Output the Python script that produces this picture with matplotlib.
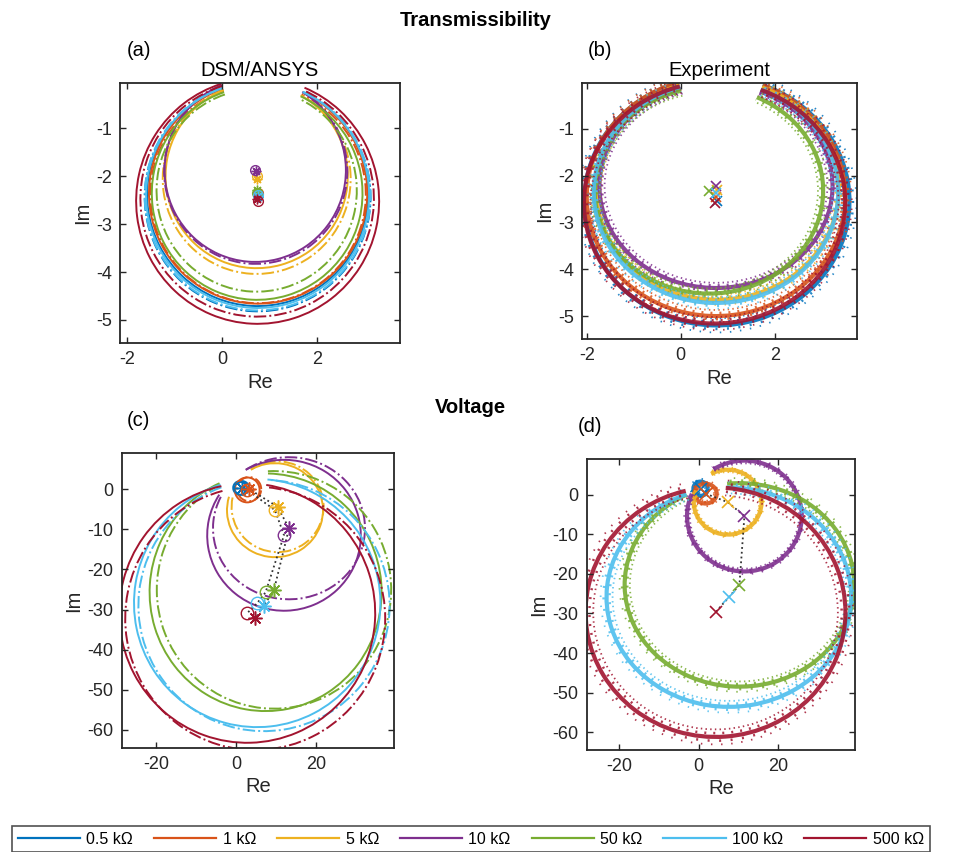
import numpy as np
import matplotlib
matplotlib.use('Agg')
import matplotlib.pyplot as plt
from matplotlib.patches import Arc
from matplotlib.lines import Line2D

plt.rcParams['font.family'] = ['Liberation Sans', 'DejaVu Sans']
plt.rcParams['axes.unicode_minus'] = False

labels = ['0.5 k\u03a9', '1 k\u03a9', '5 k\u03a9', '10 k\u03a9', '50 k\u03a9', '100 k\u03a9', '500 k\u03a9']
colors = ['#0072BD', '#D95319', '#EDB120', '#7E2F8E', '#77AC30', '#4DBEEE', '#A2142F']

# (a) transmissibility, DSM (solid) / ANSYS (dash-dot): circle centre + radius
a_dsm_re = [0.75, 0.76, 0.73, 0.70, 0.74, 0.75, 0.75]
a_dsm_im = [-2.38, -2.36, -2.00, -1.88, -2.36, -2.40, -2.52]
a_dsm_r = [2.33, 2.30, 1.92, 1.91, 2.22, 2.35, 2.56]
a_ans_re = [0.75, 0.76, 0.73, 0.71, 0.73, 0.75, 0.74]
a_ans_im = [-2.44, -2.38, -2.06, -1.90, -2.30, -2.42, -2.47]
a_ans_r = [2.38, 2.27, 1.98, 1.93, 2.11, 2.38, 2.46]
a_start = (0.0, -0.12)
a_end = (1.72, -0.20)

# (b) transmissibility, experiment: ellipse centre, half axes, scatter width
b_re = [0.77, 0.75, 0.78, 0.75, 0.60, 0.75, 0.72]
b_im = [-2.55, -2.45, -2.30, -2.22, -2.32, -2.36, -2.58]
b_rx = [2.82, 2.75, 2.58, 2.48, 2.43, 2.60, 2.78]
b_ry = [2.65, 2.55, 2.35, 2.18, 2.20, 2.36, 2.58]
b_spread = [0.15, 0.13, 0.11, 0.11, 0.11, 0.12, 0.14]
b_start = (-0.04, -0.02)
b_end = (1.70, -0.17)

# (c) voltage, DSM (solid, 'o') / ANSYS (dash-dot, '*')
c_dsm_re = [1.0, 2.8, 9.75, 12.0, 7.4, 5.3, 2.8]
c_dsm_im = [0.3, -0.2, -5.25, -11.5, -25.7, -28.4, -30.9]
c_dsm_rx = [1.7, 3.1, 12.0, 19.2, 29.0, 30.8, 32.0]
c_dsm_ry = [1.7, 3.1, 11.7, 18.8, 29.6, 30.9, 32.3]
c_ans_re = [1.5, 3.3, 10.4, 13.25, 9.5, 7.0, 4.8]
c_ans_im = [0.2, 0.0, -4.4, -9.75, -25.1, -29.0, -32.2]
c_ans_rx = [1.8, 3.0, 11.5, 19.0, 29.3, 31.4, 32.5]
c_ans_ry = [1.8, 3.0, 11.3, 17.7, 29.6, 31.3, 32.8]
# gap ends of each loop (nan = closed loop)
c_start_re = [np.nan, np.nan, -1.75, -2.0, -3.5, -3.5, -3.5]
c_start_im = [np.nan, np.nan, -1.9, -2.75, 0.0, 0.0, 0.0]
c_end_re = [np.nan, np.nan, 3.25, 2.0, 8.0, 8.0, 8.0]
c_end_im = [np.nan, np.nan, 5.6, 5.5, 4.0, 4.0, 4.0]

# (d) voltage, experiment
d_re = [0.5, 1.75, 7.3, 11.5, 10.25, 7.6, 4.25]
d_im = [1.5, 0.25, -1.9, -5.4, -22.8, -25.9, -29.7]
d_rx = [1.8, 2.8, 8.5, 14.4, 28.8, 30.7, 32.6]
d_ry = [1.8, 2.5, 8.2, 14.0, 25.7, 27.7, 31.5]
d_spread = [0.7, 0.7, 0.6, 0.7, 1.3, 1.5, 1.9]
d_start_re = [np.nan, np.nan, -0.5, 0.0, -3.0, -3.0, -3.0]
d_start_im = [np.nan, np.nan, 1.0, -0.5, 0.0, 0.0, 0.0]
d_end_re = [np.nan, np.nan, 3.0, 4.0, 7.0, 7.0, 7.0]
d_end_im = [np.nan, np.nan, 5.5, 6.0, 4.0, 4.0, 4.0]

asterisk = (8, 2, 0)


def arc(ax, cx, cy, rx, ry, p0, p1, **kw):
    if p0 is None or np.isnan(p0[0]):
        t1, t2 = 0.0, 360.0
    else:
        t1 = np.degrees(np.arctan2(p0[1] - cy, p0[0] - cx))
        t2 = np.degrees(np.arctan2(p1[1] - cy, p1[0] - cx))
        if t2 <= t1:
            t2 += 360
    ax.add_patch(Arc((cx, cy), 2 * rx, 2 * ry, theta1=t1, theta2=t2, **kw))


def ring(ax, cx, cy, rx, ry, s, p0, p1, color):
    # measured scatter band: dense core plus sparse dotted fringes
    arc(ax, cx, cy, rx, ry, p0, p1, color=color, lw=3.0, alpha=0.9)
    for k, d in enumerate([-s, -0.5 * s, 0.5 * s, s]):
        arc(ax, cx, cy, rx + d, ry + d, p0, p1, color=color,
            lw=1.8 if abs(d) < s else 1.3,
            ls=(k * 1.3, (0.8, 1.8 + k)), alpha=0.85)


def style(ax, xlim, ylim, xticks, yticks):
    ax.set_xlim(xlim)
    ax.set_ylim(ylim)
    ax.set_xticks(xticks)
    ax.set_yticks(yticks)
    ax.tick_params(direction='in', top=True, right=True, length=4, width=1,
                   labelsize=13, colors='#262626', pad=6)
    for s in ax.spines.values():
        s.set_linewidth(1.3)
        s.set_color('#262626')
    ax.set_xlabel('Re', fontsize=14.5, color='#262626', labelpad=3)
    ax.set_ylabel('Im', fontsize=14.5, color='#262626', labelpad=3)


W, H = 961, 852
fig = plt.figure(figsize=(W / 100, H / 100), dpi=100)


def box(l, t, r, b):
    return [l / W, 1 - b / H, (r - l) / W, (b - t) / H]


ax_a = fig.add_axes(box(120, 83, 400, 343))
ax_b = fig.add_axes(box(582, 83, 857, 339))
ax_c = fig.add_axes(box(122, 453, 394, 748))
ax_d = fig.add_axes(box(587, 459, 855, 750))

# (a)
for i in range(7):
    arc(ax_a, a_dsm_re[i], a_dsm_im[i], a_dsm_r[i], a_dsm_r[i], a_start, a_end,
        color=colors[i], lw=1.4)
    arc(ax_a, a_ans_re[i], a_ans_im[i], a_ans_r[i], a_ans_r[i], a_start, a_end,
        color=colors[i], lw=1.4, ls='-.')
for i in range(7):
    ax_a.plot(a_dsm_re[i], a_dsm_im[i], 'o', mfc='none', mec=colors[i], ms=7, mew=1)
    ax_a.plot(a_ans_re[i], a_ans_im[i], marker=asterisk, color=colors[i], ms=7, mew=1)
style(ax_a, (-2.15, 3.75), (-5.48, -0.06), [-2, 0, 2], [-5, -4, -3, -2, -1])
ax_a.set_title('DSM/ANSYS', fontsize=14.5, pad=5)

# (b)
for i in range(7):
    ring(ax_b, b_re[i], b_im[i], b_rx[i], b_ry[i], b_spread[i], b_start, b_end, colors[i])
for i in range(7):
    ax_b.plot(b_re[i], b_im[i], 'x', color=colors[i], ms=7, mew=1.2)
style(ax_b, (-2.1, 3.75), (-5.49, -0.02), [-2, 0, 2], [-5, -4, -3, -2, -1])
ax_b.set_title('Experiment', fontsize=14.5, pad=5)

# (c)
for i in range(7):
    p0 = (c_start_re[i], c_start_im[i])
    p1 = (c_end_re[i], c_end_im[i])
    arc(ax_c, c_dsm_re[i], c_dsm_im[i], c_dsm_rx[i], c_dsm_ry[i], p0, p1,
        color=colors[i], lw=1.4)
    arc(ax_c, c_ans_re[i], c_ans_im[i], c_ans_rx[i], c_ans_ry[i], p0, p1,
        color=colors[i], lw=1.4, ls='-.')
ax_c.plot(c_dsm_re, c_dsm_im, ':', color='#333333', lw=1.3)
ax_c.plot(c_ans_re, c_ans_im, ':', color='#333333', lw=1.3)
for i in range(7):
    ax_c.plot(c_dsm_re[i], c_dsm_im[i], 'o', mfc='none', mec=colors[i], ms=9, mew=1)
    ax_c.plot(c_ans_re[i], c_ans_im[i], marker=asterisk, color=colors[i], ms=10, mew=1.1)
style(ax_c, (-28.5, 39.5), (-64.5, 9), [-20, 0, 20], [-60, -50, -40, -30, -20, -10, 0])

# (d)
for i in range(7):
    p0 = (d_start_re[i], d_start_im[i])
    p1 = (d_end_re[i], d_end_im[i])
    ring(ax_d, d_re[i], d_im[i], d_rx[i], d_ry[i], d_spread[i], p0, p1, colors[i])
ax_d.plot(d_re[1:], d_im[1:], ':', color='#333333', lw=1.3)
for i in range(7):
    ax_d.plot(d_re[i], d_im[i], 'x', color=colors[i], ms=8, mew=1.2)
style(ax_d, (-28, 39.25), (-64.5, 9), [-20, 0, 20], [-60, -50, -40, -30, -20, -10, 0])

# panel letters and group titles
fig.text(139 / W, 1 - 51 / H, '(a)', fontsize=14.5, ha='center', va='center')
fig.text(600 / W, 1 - 50 / H, '(b)', fontsize=14.5, ha='center', va='center')
fig.text(138 / W, 1 - 421 / H, '(c)', fontsize=14.5, ha='center', va='center')
fig.text(590 / W, 1 - 427 / H, '(d)', fontsize=14.5, ha='center', va='center')
fig.text(476 / W, 1 - 20 / H, 'Transmissibility', fontsize=14.5, fontweight='bold',
         ha='center', va='center')
fig.text(470 / W, 1 - 407 / H, 'Voltage', fontsize=14.5, fontweight='bold',
         ha='center', va='center')

handles = [Line2D([], [], color=c, lw=1.6) for c in colors]
leg = fig.legend(handles, labels, loc='upper left', bbox_to_anchor=(12 / W, 1 - 826 / H),
                 ncol=7, frameon=True, fancybox=False, fontsize=11.5,
                 handlelength=3.9, handletextpad=0.4, columnspacing=1.3,
                 borderpad=0.35, borderaxespad=0)
leg.get_frame().set_edgecolor('#262626')
leg.get_frame().set_linewidth(1.2)

fig.savefig('out.png', dpi=100)
